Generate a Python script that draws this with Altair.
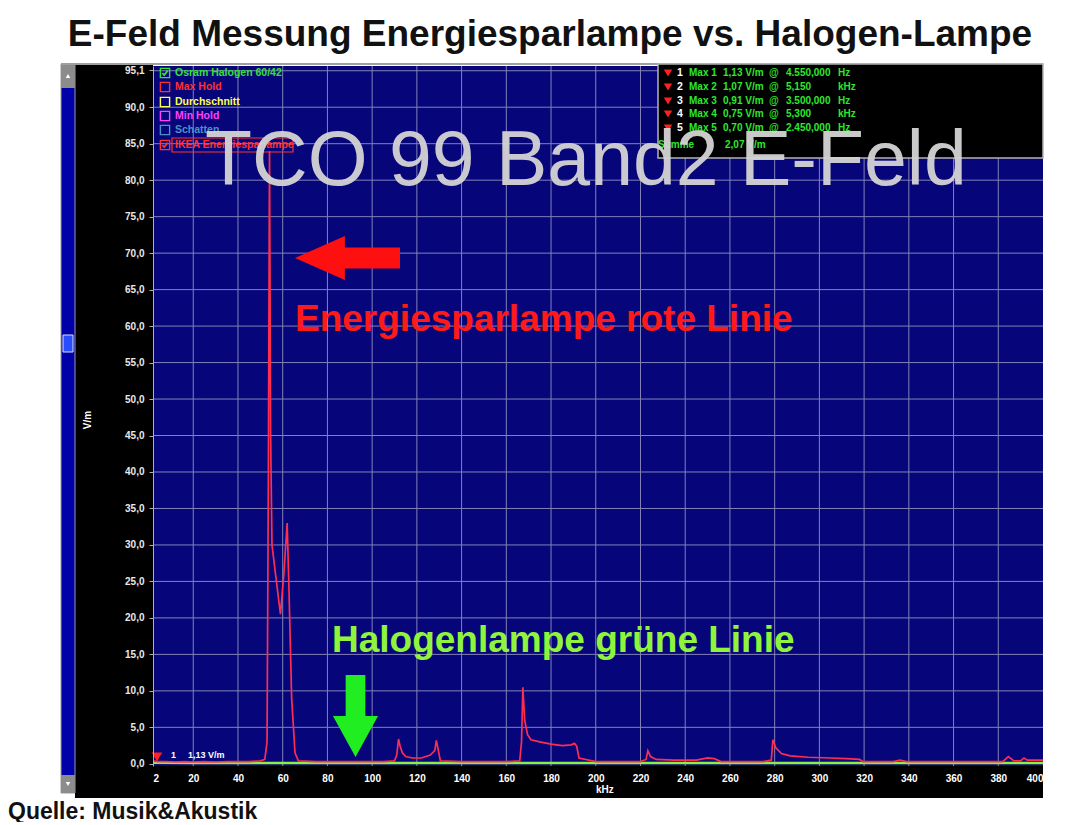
import altair as alt
import pandas as pd

# ---------------- data ----------------
ikea_freq = [2, 4, 8, 12, 16, 20, 25, 30, 35, 40, 45, 50, 52, 53, 53.6, 54.1, 54.6, 55.2, 57, 59, 60.5,
             62, 62.8, 64, 65.5, 67, 75, 85, 95, 105, 110, 111, 111.8, 112.5, 113.5, 115, 118, 122, 126,
             128, 128.7, 129.5, 130.5, 140, 150, 160, 166, 166.8, 167.4, 168.2, 169.5, 171, 175, 180,
             185, 189, 190.5, 191.5, 192.5, 200, 210, 220, 222.5, 223.3, 224.5, 227, 235, 245, 250, 253,
             256, 265, 275, 278.5, 279.2, 280.5, 283, 287, 295, 305, 312, 318, 319.5, 325, 333, 336, 339,
             350, 370, 382, 384.5, 387, 390, 391.5, 393, 400]
ikea_vm = [0.4, 0.3, 0.3, 0.25, 0.3, 0.25, 0.3, 0.25, 0.3, 0.3, 0.3, 0.4, 0.6, 3, 40, 84, 45, 30, 25.5, 20.5, 26,
           33, 24, 9, 1.5, 0.4, 0.3, 0.3, 0.3, 0.3, 0.4, 1.2, 3.4, 2.4, 1.5, 1.0, 0.8, 0.8, 1.2,
           1.8, 3.2, 2.0, 0.4, 0.3, 0.3, 0.3, 0.4, 3, 10.5, 6, 4, 3.3, 3.0, 2.7,
           2.5, 2.6, 2.8, 2.4, 0.8, 0.3, 0.3, 0.3, 0.6, 1.8, 1.0, 0.6, 0.5, 0.5, 0.8, 0.7,
           0.3, 0.3, 0.3, 0.5, 3.3, 2.2, 1.4, 1.1, 0.9, 0.8, 0.7, 0.6, 0.3, 0.3, 0.3, 0.5, 0.3,
           0.3, 0.3, 0.3, 1.0, 0.4, 0.4, 0.8, 0.5, 0.5]

halogen_freq = [2, 20, 40, 60, 80, 100, 120, 140, 160, 180, 200, 220, 240, 260, 280, 300, 320, 340, 360, 380, 400]
halogen_vm = [0.15, 0.12, 0.1, 0.1, 0.1, 0.1, 0.1, 0.1, 0.1, 0.1, 0.1, 0.1, 0.1, 0.1, 0.1, 0.1, 0.1, 0.1, 0.1, 0.1, 0.1]

x_ticks = [2, 20, 40, 60, 80, 100, 120, 140, 160, 180, 200, 220, 240, 260, 280, 300, 320, 340, 360, 380, 400]
y_ticks = [0, 5, 10, 15, 20, 25, 30, 35, 40, 45, 50, 55, 60, 65, 70, 75, 80, 85, 90, 95.1]
x_grid = [20, 40, 60, 80, 100, 120, 140, 160, 180, 200, 220, 240, 260, 280, 300, 320, 340, 360, 380]
y_grid = [5, 10, 15, 20, 25, 30, 35, 40, 45, 50, 55, 60, 65, 70, 75, 80, 85, 90, 95]

legend_items = ["Osram Halogen 60/42", "Max Hold", "Durchschnitt", "Min Hold", "Schatten", "IKEA Energiesparlampe"]
legend_colors = ["#35e035", "#ff3030", "#ffff50", "#ff40ff", "#4f8fc8", "#ff3030"]
legend_checked = [True, False, False, False, False, True]

marker_names = ["Max 1", "Max 2", "Max 3", "Max 4", "Max 5"]
marker_values = ["1,13 V/m", "1,07 V/m", "0,91 V/m", "0,75 V/m", "0,70 V/m"]
marker_freqs = ["4.550,000", "5,150", "3.500,000", "5,300", "2.450,000"]
marker_units = ["Hz", "kHz", "Hz", "kHz", "Hz"]
summe_value = "2,07 V/m"

W, H = 890, 700
NAVY = "#06067a"
GRID = "#8282b8"
FONT = "Liberation Sans"

one = pd.DataFrame({"k": [0]})


def txt(x, y, s, size, color, weight="bold", align="left", baseline="middle", angle=None, opacity=1.0, font=FONT):
    kw = dict(align=align, baseline=baseline, fontSize=size, color=color, fontWeight=weight,
              font=font, opacity=opacity)
    if angle is not None:
        kw["angle"] = angle
    return alt.Chart(one).mark_text(**kw).encode(x=alt.value(x), y=alt.value(y), text=alt.value(s))


def rect(x, x2, y, y2, fill, stroke=None, sw=0.0, opacity=1.0):
    kw = dict(fill=fill, opacity=opacity)
    if stroke is not None:
        kw["stroke"] = stroke
        kw["strokeWidth"] = sw
    return alt.Chart(one).mark_rect(**kw).encode(x=alt.value(x), x2=alt.value(x2), y=alt.value(y), y2=alt.value(y2))


def sym(x, y, shape, size, color, filled=True, sw=1.5):
    if filled:
        m = alt.Chart(one).mark_point(shape=shape, size=size, filled=True, fill=color, opacity=1, strokeWidth=0)
    else:
        m = alt.Chart(one).mark_point(shape=shape, size=size, filled=False, stroke=color, opacity=1,
                                      strokeWidth=sw, fill="transparent")
    return m.encode(x=alt.value(x), y=alt.value(y))


xscale = alt.Scale(domain=[2, 400], nice=False, zero=False)
yscale = alt.Scale(domain=[-0.3, 95.65], nice=False, zero=False)

x_axis = alt.Axis(values=x_ticks, labelColor="#ffffff", labelFont=FONT, labelFontWeight="bold",
                  labelFontSize=10, labelPadding=7, ticks=True, tickSize=0, domain=False, grid=False,
                  labelFlush=True, zindex=5)
y_axis = alt.Axis(values=y_ticks, labelColor="#e8e8e8", labelFont=FONT, labelFontWeight="bold",
                  labelFontSize=10, labelPadding=5, tickSize=4, tickColor="#b0b0b0",
                  domain=True, domainColor="#b0b0b0", grid=False, zindex=5,
                  labelExpr="replace(format(datum.value, '.1f'), '.', ',')")


def X(field):
    return alt.X(field, scale=xscale, axis=x_axis, title=None)


def Y(field):
    return alt.Y(field, scale=yscale, axis=y_axis, title=None)


df_ikea = pd.DataFrame({"f": ikea_freq, "v": ikea_vm})
df_hal = pd.DataFrame({"f": halogen_freq, "v": halogen_vm})

layers = []

# screenshot frame pieces outside the plot
layers.append(rect(-78, 0, -2, 732, "#000000"))
layers.append(rect(-78, W, 700, 732, "#000000"))
layers.append(rect(-92, -78, -2, 727, "#0000a8", stroke="#9a9a9a", sw=1))
layers.append(rect(-92, -78, -2, 22, "#8c8c8c"))
layers.append(rect(-92, -78, 709, 727, "#8c8c8c"))
layers.append(sym(-85, 10, "triangle-up", 20, "#ffffff"))
layers.append(sym(-85, 718, "triangle-down", 20, "#ffffff"))
layers.append(rect(-90, -80, 269, 286, "#2a4cff", stroke="#e0e0ff", sw=1))
layers.append(rect(-92, W, -3, -1, "#a0a0a0"))

# grid
layers.append(alt.Chart(pd.DataFrame({"f": x_grid})).mark_rule(color=GRID, strokeWidth=1).encode(x=X("f:Q")))
layers.append(alt.Chart(pd.DataFrame({"v": y_grid})).mark_rule(color=GRID, strokeWidth=1).encode(y=Y("v:Q")))

# traces
layers.append(alt.Chart(df_hal).mark_line(color="#8cf040", strokeWidth=2.5).encode(x=X("f:Q"), y=Y("v:Q")))
layers.append(alt.Chart(df_ikea).mark_line(color="#ff2d50", strokeWidth=1.7).encode(x=X("f:Q"), y=Y("v:Q")))

# axis decorations
layers.append(txt(-65, 354, "V/m", 10, "#ffffff", angle=270, align="center"))
layers.append(txt(443, 724, "kHz", 10, "#ffffff"))

# legend (top-left)
row_y = [7, 21, 36, 50, 64, 79]
for name, col, chk, yy in zip(legend_items, legend_colors, legend_checked, row_y):
    layers.append(sym(12, yy, "square", 85, col, filled=False, sw=1.4))
    if chk:
        layers.append(sym(12, yy, "M -0.7 0 L -0.2 0.55 L 0.7 -0.6", 60, col, filled=False, sw=1.8))
    layers.append(txt(22, yy, name, 10.5, col))
layers.append(rect(19, 140, 72, 86, "transparent", stroke="#ff3030", sw=1.2))

# marker table (top-right)
layers.append(rect(505, W, -2, 92, "#000000", stroke="#b4b4b4", sw=1.5))
tab_y = [7, 21, 35, 48, 62]
for i, (nm, val, fq, un, yy) in enumerate(zip(marker_names, marker_values, marker_freqs, marker_units, tab_y)):
    layers.append(sym(515, yy, "triangle-down", 70, "#ff2020"))
    layers.append(txt(524, yy, str(i + 1), 10.5, "#ffffff"))
    layers.append(txt(536, yy, nm, 10, "#2ee82e"))
    layers.append(txt(570, yy, val, 10, "#2ee82e"))
    layers.append(txt(616, yy, "@", 10, "#2ee82e"))
    layers.append(txt(633, yy, fq, 10, "#2ee82e"))
    layers.append(txt(685, yy, un, 10, "#2ee82e"))
layers.append(txt(505, 79, "Summe", 10, "#2ee82e"))
layers.append(txt(572, 79, summe_value, 10, "#2ee82e"))

# bottom-left marker
layers.append(sym(4, 691, "triangle-down", 110, "#ff2020"))
layers.append(txt(18, 689, "1", 9, "#ffffff"))
layers.append(txt(35, 689, "1,13 V/m", 9, "#ffffff"))

# overlay annotations
layers.append(txt(52, 119, "TCO 99 Band2 E-Feld", 77, "#d4d4d4", weight="normal", baseline="alphabetic",
                  opacity=0.95))
layers.append(sym(194.5, 192, "M -1 0 L -0.05 -0.42 L -0.05 -0.2 L 1 -0.2 L 1 0.2 L -0.05 0.2 L -0.05 0.42 Z",
                  11025, "#ff1010"))
layers.append(txt(142, 254, "Energiesparlampe rote Linie", 37, "#ff1a1a"))
layers.append(txt(179, 575, "Halogenlampe grüne Linie", 37, "#8ff53c"))
layers.append(sym(202.5, 650, "M -0.24 -1 L 0.24 -1 L 0.24 0 L 0.55 0 L 0 1 L -0.55 0 L -0.24 0 Z",
                  6724, "#20ee20"))

# page title and source
layers.append(txt(397, -31, "E-Feld Messung Energiesparlampe vs. Halogen-Lampe", 37, "#111111", align="center"))
layers.append(txt(-145, 753, "Quelle: Musik&Akustik", 23, "#111111", baseline="alphabetic"))

chart = alt.layer(*layers).properties(
    width=W, height=H,
    autosize=alt.AutoSizeParams(type="none"),
    padding={"left": 145, "top": 58, "right": 33, "bottom": 56},
    background="#ffffff",
).configure_view(fill=NAVY, stroke=None)

chart.save("out.html", embed_options={"renderer": "svg", "actions": False})
